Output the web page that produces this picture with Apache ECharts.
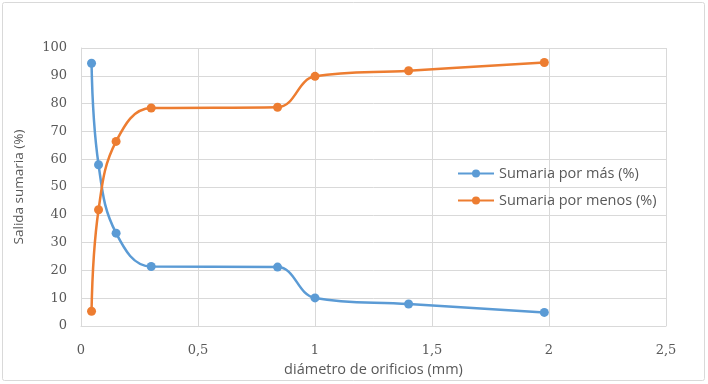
<!DOCTYPE html>
<html>
<head>
<meta charset="utf-8">
<script src="https://cdn.jsdelivr.net/npm/echarts@6/dist/echarts.min.js"></script>
<style>
  html, body { margin: 0; padding: 0; background: #fff; }
  #chart { width: 708px; height: 384px; }
</style>
</head>
<body>
<div id="chart"></div>
<script>
// diámetro de orificios (mm)
const diametros = [0.045, 0.075, 0.15, 0.3, 0.84, 1.0, 1.4, 1.98];
// Sumaria por más (%)
const porMas = [94.5, 58, 33.4, 21.4, 21.2, 10.1, 7.9, 4.9];
// Sumaria por menos (%)
const porMenos = [5.3, 41.8, 66.4, 78.4, 78.7, 89.8, 91.8, 94.8];

const seriesNames = ['Sumaria por más (%)', 'Sumaria por menos (%)'];
const colors = ['#5b9bd5', '#ed7d31'];

const chart = echarts.init(document.getElementById('chart'));

const pairs = (ys) => diametros.map((x, i) => [x, ys[i]]);

const tickFont = { fontFamily: 'DejaVu Serif', fontSize: 13, color: '#595959' };

const option = {
  animation: false,
  backgroundColor: '#fff',
  graphic: [{
    type: 'rect',
    shape: { x: 2.5, y: 2.5, width: 702, height: 378, r: 2 },
    style: { fill: 'none', stroke: '#d9d9d9', lineWidth: 1 },
    silent: true
  }],
  grid: { left: 81, top: 48, right: 42, bottom: 58 },
  legend: {
    orient: 'vertical',
    left: 452,
    top: 161,
    itemWidth: 36,
    itemHeight: 10,
    itemGap: 12,
    data: seriesNames,
    textStyle: { fontFamily: 'Open Sans', fontSize: 14.5, color: '#595959' }
  },
  xAxis: {
    type: 'value',
    min: 0,
    max: 2.5,
    interval: 0.5,
    name: 'diámetro de orificios (mm)',
    nameLocation: 'middle',
    nameGap: 32,
    nameTextStyle: { fontFamily: 'Open Sans', fontSize: 14.5, color: '#595959' },
    axisLine: { show: true, lineStyle: { color: '#d9d9d9' } },
    axisTick: { show: false },
    splitLine: { show: true, lineStyle: { color: '#d9d9d9' } },
    axisLabel: Object.assign({ margin: 18, formatter: (v) => String(v).replace('.', ',') }, tickFont)
  },
  yAxis: {
    type: 'value',
    min: 0,
    max: 100,
    interval: 10,
    name: 'Salida sumaria (%)',
    nameLocation: 'middle',
    nameGap: 55,
    nameTextStyle: { fontFamily: 'Open Sans', fontSize: 13.5, color: '#595959' },
    axisLine: { show: true, lineStyle: { color: '#d9d9d9' } },
    axisTick: { show: false },
    splitLine: { show: true, lineStyle: { color: '#d9d9d9' } },
    axisLabel: Object.assign({ margin: 14 }, tickFont)
  },
  series: [porMas, porMenos].map((ys, i) => ({
    name: seriesNames[i],
    type: 'line',
    data: pairs(ys),
    smooth: 0.4,
    symbol: 'circle',
    symbolSize: 9,
    color: colors[i],
    lineStyle: { width: 2.5, color: colors[i] },
    itemStyle: { color: colors[i] }
  }))
};

chart.setOption(option);
</script>
</body>
</html>
